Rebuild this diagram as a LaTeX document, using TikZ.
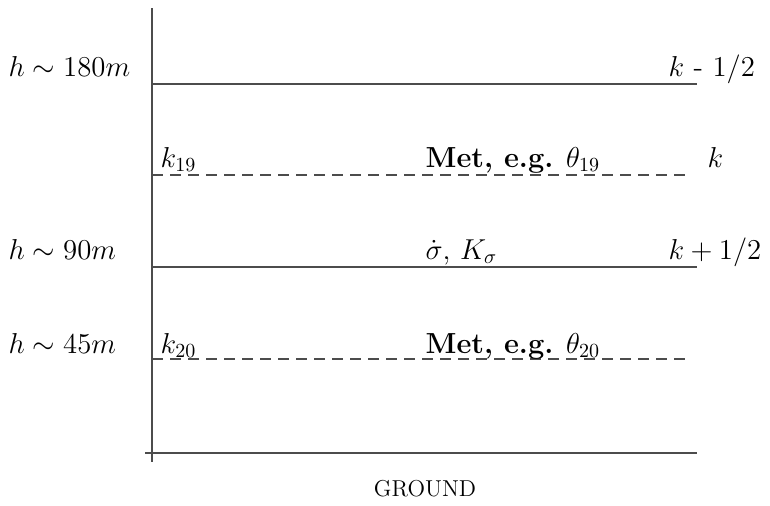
\documentclass[tikz,border=0pt]{standalone}
\begin{document}
\begin{tikzpicture}[x=0.5pt,y=-0.5pt,line width=0.6pt,font=\fontsize{14.5}{17}\selectfont]
\tikzset{level/.style={draw=black!70},
  halflevel/.style={draw=black!70,dash pattern=on 5.5pt off 3.5pt},
  lbl/.style={anchor=base west,inner sep=0pt}}
\useasboundingbox (0,0) rectangle (770,505);
% axis and ground
\draw[level] (152,8) -- (152,462);
\draw[level] (145,453) -- (697,453);
\node[anchor=base,inner sep=0pt,font=\fontsize{11.5}{13}\selectfont] (ground) at (425,496) {GROUND};
% half levels (solid)
\draw[level] (152,84) -- (697,84);
\draw[level] (152,267) -- (697,267);
% full levels (dashed)
\draw[halflevel] (152,175) -- (690,175);
\draw[halflevel] (152,359) -- (690,359);
% heights
\node[lbl] (h180) at (8,76) {$h\sim 180m$};
\node[lbl] (h90) at (8,259) {$h\sim 90m$};
\node[lbl] (h45) at (8,353) {$h\sim 45m$};
% level names
\node[lbl] (kminus) at (668,76) {$k$ - $1/2$};
\node[lbl] (kfull) at (707,167) {$k$};
\node[lbl] (kplus) at (668,259) {$k+1/2$};
\node[lbl] (k19) at (160,167) {$k_{19}$};
\node[lbl] (k20) at (160,353) {$k_{20}$};
% variables
\node[lbl] (met19) at (425,167) {\textbf{Met, e.g.} $\theta_{19}$};
\node[lbl] (sigma) at (425,259) {$\dot{\sigma}$, $K_{\sigma}$};
\node[lbl] (met20) at (425,353) {\textbf{Met, e.g.} $\theta_{20}$};
\end{tikzpicture}
\end{document}
